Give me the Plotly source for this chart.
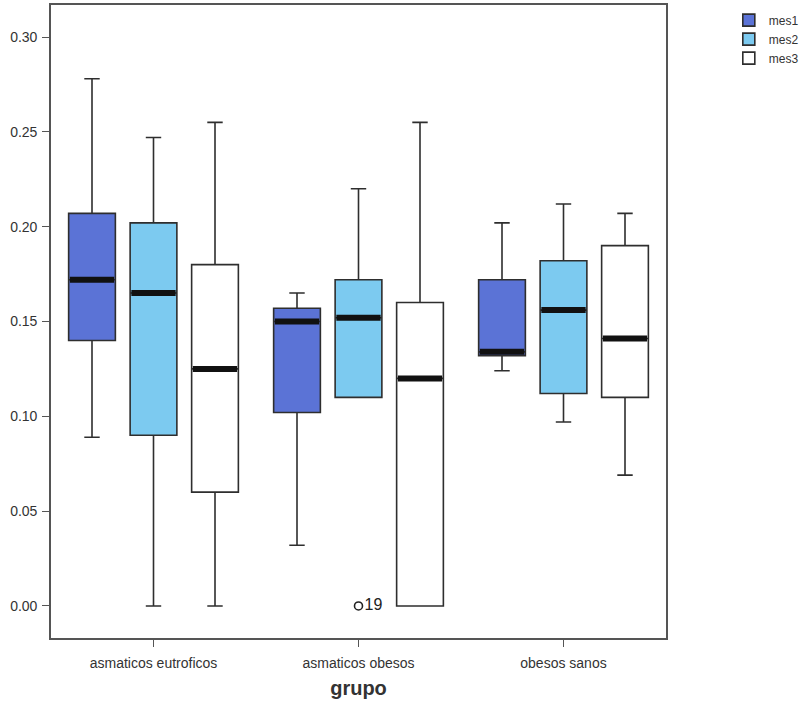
import plotly.graph_objects as go

# Groups on the x axis and the three monthly series
groups = ["asmaticos eutroficos", "asmaticos obesos", "obesos sanos"]
series = ["mes1", "mes2", "mes3"]

# Box statistics per series, one value per group
mes1_low = [0.089, 0.032, 0.124]
mes1_q1 = [0.140, 0.102, 0.132]
mes1_med = [0.172, 0.150, 0.134]
mes1_q3 = [0.207, 0.157, 0.172]
mes1_high = [0.278, 0.165, 0.202]

mes2_low = [0.000, 0.110, 0.097]
mes2_q1 = [0.090, 0.110, 0.112]
mes2_med = [0.165, 0.152, 0.156]
mes2_q3 = [0.202, 0.172, 0.182]
mes2_high = [0.247, 0.220, 0.212]

mes3_low = [0.000, 0.000, 0.069]
mes3_q1 = [0.060, 0.000, 0.110]
mes3_med = [0.125, 0.120, 0.141]
mes3_q3 = [0.180, 0.160, 0.190]
mes3_high = [0.255, 0.255, 0.207]

# Outlier (case 19, mes2, asmaticos obesos)
outlier_group = [1]
outlier_series = [1]
outlier_value = [0.0]
outlier_label = ["19"]

stats = {
    "mes1": (mes1_low, mes1_q1, mes1_med, mes1_q3, mes1_high),
    "mes2": (mes2_low, mes2_q1, mes2_med, mes2_q3, mes2_high),
    "mes3": (mes3_low, mes3_q1, mes3_med, mes3_q3, mes3_high),
}
fills = {"mes1": "#5b73d6", "mes2": "#7ccaf0", "mes3": "#ffffff"}
offsets = [-0.30, 0.0, 0.30]
box_w = 0.228
edge = "#2e2e2e"
font = "Liberation Sans, Arial, sans-serif"

fig = go.Figure()
for si, name in enumerate(series):
    low, q1, med, q3, high = stats[name]
    xs = [g + offsets[si] for g in range(len(groups))]
    fig.add_trace(go.Box(
        x=xs, q1=q1, median=med, q3=q3, lowerfence=low, upperfence=high,
        name=name, width=box_w, whiskerwidth=0.33,
        fillcolor=fills[name], line=dict(color=edge, width=1.6),
        boxpoints=False, hoverinfo="skip",
    ))

# Thick median bars drawn over each box
for si, name in enumerate(series):
    med = stats[name][2]
    mx, my = [], []
    for g, m in enumerate(med):
        c = g + offsets[si]
        mx += [c - box_w / 2 + 0.006, c + box_w / 2 - 0.006, None]
        my += [m, m, None]
    fig.add_trace(go.Scatter(
        x=mx, y=my, mode="lines", line=dict(color="#111111", width=6),
        showlegend=False, hoverinfo="skip",
    ))

fig.add_trace(go.Scatter(
    x=[g + offsets[s] for g, s in zip(outlier_group, outlier_series)],
    y=outlier_value, mode="markers+text", text=outlier_label,
    textposition="middle right",
    textfont=dict(family=font, size=16, color="#222"),
    marker=dict(symbol="circle-open", size=8, color="#222", line=dict(width=1.6)),
    showlegend=False, hoverinfo="skip",
))

fig.update_layout(
    width=808, height=701,
    margin=dict(l=51, r=142, t=5, b=63, autoexpand=False),
    paper_bgcolor="white", plot_bgcolor="white",
    font=dict(family=font, size=13, color="#333"),
    showlegend=True,
    legend=dict(xref="container", yref="container", x=0.902, y=0.992,
                xanchor="left", yanchor="top",
                font=dict(size=12, color="#333"), tracegroupgap=0,
                bgcolor="rgba(0,0,0,0)"),
    xaxis=dict(
        range=[-0.5, 2.5], tickmode="array", tickvals=list(range(len(groups))),
        ticktext=groups, showgrid=False, zeroline=False,
        showline=True, mirror=True, linecolor="#555", linewidth=1.6,
        ticks="outside", ticklen=7, tickcolor="#555", tickwidth=1.3,
        ticklabelstandoff=4,
        tickfont=dict(size=14, color="#333"),
        title=dict(text="<b>grupo</b>", font=dict(size=20, color="#333"), standoff=11),
    ),
    yaxis=dict(
        range=[-0.0169, 0.3169], tickvals=[0, 0.05, 0.10, 0.15, 0.20, 0.25, 0.30],
        tickformat=".2f", showgrid=False, zeroline=False,
        showline=True, mirror=True, linecolor="#555", linewidth=1.6,
        ticks="outside", ticklen=7, tickcolor="#555", tickwidth=1.3,
        ticklabelstandoff=2,
        tickfont=dict(size=14, color="#333"),
    ),
)

fig.write_html("out.html")
